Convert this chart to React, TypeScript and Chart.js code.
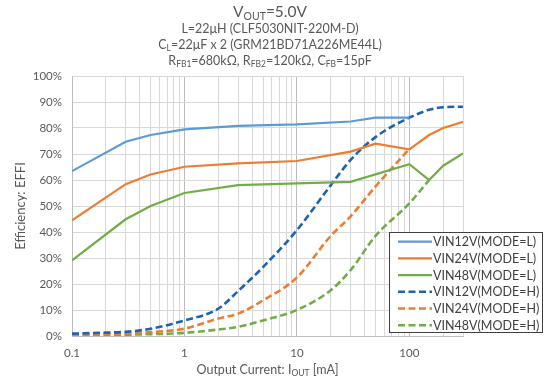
import React, { useEffect, useRef } from 'react';
import { Chart, registerables } from 'chart.js';
Chart.register(...registerables);

const FONT = 'Lato, "Noto Sans", sans-serif';
const TEXT = '#595959';

// Output current (mA) and efficiency (%) per series
const X_L12 = [0.1, 0.3, 0.5, 1, 3, 10, 30, 50, 100];
const Y_L12 = [63.4, 74.7, 77.3, 79.5, 80.8, 81.4, 82.5, 84, 84];
const X_L24 = [0.1, 0.3, 0.5, 1, 3, 10, 30, 50, 100, 150, 200, 300];
const Y_L24 = [44.5, 58.4, 62.1, 65.1, 66.4, 67.3, 70.9, 74, 71.8, 77.3, 80, 82.4];
const X_L48 = [0.1, 0.3, 0.5, 1, 3, 10, 30, 100, 150, 200, 300];
const Y_L48 = [29.1, 44.9, 50, 55, 58, 58.7, 59.3, 66.1, 60, 65.5, 70.2];
const X_H12 = [0.1, 0.2, 0.3, 0.5, 1, 2, 3, 5, 10, 20, 30, 50, 100, 150, 200, 300];
const Y_H12 = [0.9, 1.3, 1.6, 2.8, 6, 10.5, 17.3, 26.5, 40.7, 58, 67.7, 76.5, 84, 87, 88, 88.2];
const X_H24 = [0.1, 0.2, 0.3, 0.5, 1, 2, 3, 5, 10, 20, 30, 50, 100];
const Y_H24 = [0.5, 0.7, 0.9, 1.5, 2.8, 6.7, 8.6, 13.7, 22.5, 38.5, 46, 57.5, 72];
const X_H48 = [0.1, 0.2, 0.3, 0.5, 1, 2, 3, 5, 10, 20, 30, 50, 100, 150];
const Y_H48 = [0.3, 0.4, 0.5, 0.7, 1.2, 2.5, 3.5, 6, 10, 17.6, 25.3, 38.5, 51, 60];

const LABELS = [
  'VIN12V(MODE=L)',
  'VIN24V(MODE=L)',
  'VIN48V(MODE=L)',
  'VIN12V(MODE=H)',
  'VIN24V(MODE=H)',
  'VIN48V(MODE=H)',
];
const COLORS = ['#5B9BD5', '#ED7D31', '#70AD47', '#1F62B0', '#ED7D31', '#70AD47'];

const X_TICKS = [
  0.1, 0.2, 0.3, 0.4, 0.5, 0.6, 0.7, 0.8, 0.9,
  1, 2, 3, 4, 5, 6, 7, 8, 9,
  10, 20, 30, 40, 50, 60, 70, 80, 90,
  100, 200, 300,
];
const X_MIN = 0.1;
const X_MAX = 300;
const Y_MIN = 0;
const Y_MAX = 100;
const Y_STEP = 10;

type Seg = { t: string; sub?: boolean };

const TITLE_LINES: { segs: Seg[]; size: number }[] = [
  { segs: [{ t: 'V' }, { t: 'OUT', sub: true }, { t: '=5.0V' }], size: 15.5 },
  { segs: [{ t: 'L=22\u03bcH (CLF5030NIT-220M-D)' }], size: 12.5 },
  { segs: [{ t: 'C' }, { t: 'L', sub: true }, { t: '=22\u03bcF x 2 (GRM21BD71A226ME44L)' }], size: 12.5 },
  {
    segs: [
      { t: 'R' }, { t: 'FB1', sub: true }, { t: '=680k\u03a9, R' }, { t: 'FB2', sub: true },
      { t: '=120k\u03a9, C' }, { t: 'FB', sub: true }, { t: '=15pF' },
    ],
    size: 12.5,
  },
];
const X_TITLE: Seg[] = [{ t: 'Output Current: I' }, { t: 'OUT', sub: true }, { t: ' [mA]' }];
const Y_TITLE = 'Efficiency: EFFI';

function drawRich(ctx: CanvasRenderingContext2D, segs: Seg[], cx: number, cy: number, size: number) {
  const main = `${size}px ${FONT}`;
  const sub = `${size * 0.68}px ${FONT}`;
  let total = 0;
  const widths = segs.map((s) => {
    ctx.font = s.sub ? sub : main;
    const w = ctx.measureText(s.t).width;
    total += w;
    return w;
  });
  let x = cx - total / 2;
  ctx.textAlign = 'left';
  ctx.textBaseline = 'middle';
  segs.forEach((s, i) => {
    ctx.font = s.sub ? sub : main;
    ctx.fillText(s.t, x, s.sub ? cy + size * 0.28 : cy);
    x += widths[i];
  });
}

const decorPlugin = {
  id: 'decor',
  afterDraw(chart: any) {
    const ctx: CanvasRenderingContext2D = chart.ctx;
    const area = chart.chartArea;
    ctx.save();
    ctx.fillStyle = TEXT;
    const titleY = [12, 29, 45, 61];
    TITLE_LINES.forEach((l, i) => drawRich(ctx, l.segs, 270, titleY[i], l.size));
    drawRich(ctx, X_TITLE, (area.left + area.right) / 2, 370, 12.5);
    ctx.translate(21, (area.top + area.bottom) / 2);
    ctx.rotate(-Math.PI / 2);
    ctx.font = `13px ${FONT}`;
    ctx.textAlign = 'center';
    ctx.textBaseline = 'middle';
    ctx.fillText(Y_TITLE, 0, 0);
    ctx.restore();

    // legend
    ctx.save();
    const bx = 389, by = 232, bw = 154, bh = 101;
    ctx.fillStyle = '#ffffff';
    ctx.fillRect(bx, by, bw, bh);
    ctx.strokeStyle = '#404040';
    ctx.lineWidth = 1;
    ctx.strokeRect(bx + 0.5, by + 0.5, bw - 1, bh - 1);
    chart.data.datasets.forEach((ds: any, i: number) => {
      const y = by + 9.7 + i * 16.7;
      ctx.strokeStyle = ds.borderColor;
      ctx.lineWidth = ds.borderWidth;
      ctx.setLineDash(ds.borderDash || []);
      ctx.beginPath();
      ctx.moveTo(bx + 9, y);
      ctx.lineTo(bx + 43, y);
      ctx.stroke();
      ctx.setLineDash([]);
      ctx.fillStyle = '#404040';
      ctx.font = `12.5px ${FONT}`;
      ctx.textAlign = 'left';
      ctx.textBaseline = 'middle';
      ctx.fillText(ds.label, bx + 44, y + 0.5);
    });
    ctx.restore();
  },
};

function pts(xs: number[], ys: number[]) {
  return xs.map((x, i) => ({ x, y: ys[i] }));
}

function isDecade(v: number) {
  const l = Math.log10(v);
  return Math.abs(l - Math.round(l)) < 1e-9;
}

export default function App() {
  const ref = useRef<HTMLCanvasElement>(null);
  useEffect(() => {
    document.body.style.margin = '0';
    const series = [
      [X_L12, Y_L12], [X_L24, Y_L24], [X_L48, Y_L48],
      [X_H12, Y_H12], [X_H24, Y_H24], [X_H48, Y_H48],
    ];
    const datasets = series.map(([xs, ys], i) => {
      const dashed = i >= 3;
      return {
        label: LABELS[i],
        data: pts(xs, ys),
        borderColor: COLORS[i],
        backgroundColor: COLORS[i],
        borderWidth: dashed ? 2.6 : 2.2,
        borderDash: dashed ? [7, 3.5] : [],
        pointRadius: 0,
        fill: false,
        cubicInterpolationMode: dashed ? 'monotone' : 'default',
        tension: 0,
      };
    });
    const chart = new Chart(ref.current!, {
      type: 'line',
      data: { datasets } as any,
      plugins: [decorPlugin],
      options: {
        animation: false,
        responsive: false,
        parsing: false as any,
        layout: { padding: { left: 0, top: 76, right: 88, bottom: 0 } },
        plugins: { legend: { display: false }, title: { display: false }, tooltip: { enabled: false } },
        scales: {
          x: {
            type: 'logarithmic',
            min: X_MIN,
            max: X_MAX,
            afterBuildTicks: (s: any) => {
              s.ticks = X_TICKS.map((v) => ({ value: v, major: isDecade(v) }));
            },
            afterFit: (s: any) => {
              s.height = 43;
            },
            ticks: {
              autoSkip: false,
              maxRotation: 0,
              padding: 10,
              color: TEXT,
              font: { family: FONT, size: 11.5 },
              callback: (v: any) => {
                const n = Number(v);
                return isDecade(n) ? String(n) : '';
              },
            },
            grid: {
              drawTicks: false,
              color: (c: any) => (c.tick && isDecade(c.tick.value) ? '#bcbcbc' : '#d9d9d9'),
              lineWidth: 1,
            },
            border: { color: '#bcbcbc' },
          },
          y: {
            type: 'linear',
            min: Y_MIN,
            max: Y_MAX,
            afterFit: (s: any) => {
              s.width = 72;
            },
            ticks: {
              stepSize: Y_STEP,
              padding: 10,
              color: TEXT,
              font: { family: FONT, size: 11.5 },
              callback: (v: any) => `${v}%`,
            },
            grid: { drawTicks: false, color: '#d9d9d9', lineWidth: 1 },
            border: { color: '#bcbcbc' },
          },
        },
      } as any,
    });
    return () => chart.destroy();
  }, []);
  return <canvas ref={ref} width={551} height={379} style={{ display: 'block' }} />;
}
